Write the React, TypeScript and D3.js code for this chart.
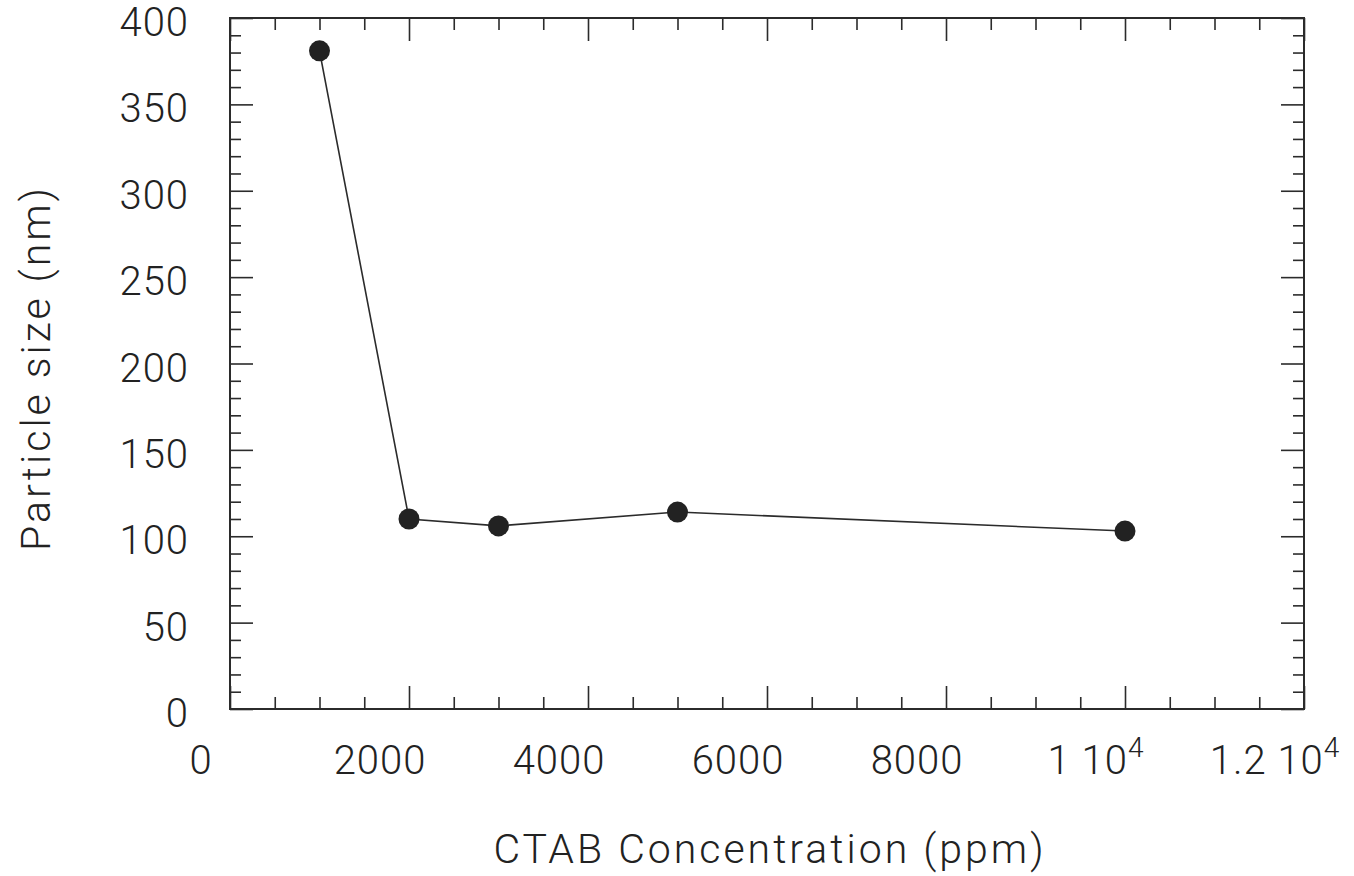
import * as d3 from 'd3';
import React, { useEffect, useRef } from 'react';

// CTAB concentration (ppm) vs particle size (nm)
const concentration = [1000, 2000, 3000, 5000, 10000];
const particleSize = [381, 110, 106, 114, 103];

const xTickValues = [0, 2000, 4000, 6000, 8000, 10000, 12000];
const xTickMantissa = ['0', '2000', '4000', '6000', '8000', '1 10', '1.2 10'];
const xTickExponent = ['', '', '', '', '', '4', '4'];
const yTickValues = [0, 50, 100, 150, 200, 250, 300, 350, 400];

const xTitle = 'CTAB Concentration (ppm)';
const yTitle = 'Particle size (nm)';

export default function App({
  width = 1354,
  height = 876,
  marginTop = 18,
  marginRight = 50,
  marginBottom = 167,
  marginLeft = 230,
}) {
  const svgRef = useRef(null);

  const x = d3
    .scaleLinear()
    .domain([0, 12000])
    .range([marginLeft, width - marginRight]);

  const y = d3
    .scaleLinear()
    .domain([0, 400])
    .range([height - marginBottom, marginTop]);

  useEffect(() => {
    const svg = d3.select(svgRef.current);
    svg.selectAll('*').remove();

    const ink = '#2b2b2b';
    const font = "Roboto, 'Liberation Sans', Arial, sans-serif";
    const x0 = marginLeft;
    const x1 = width - marginRight;
    const y0 = height - marginBottom;
    const y1 = marginTop;

    svg.append('rect').attr('width', width).attr('height', height).attr('fill', '#fff');

    const xMinor = d3.range(0, 12001, 500).filter((d) => d % 2000 !== 0);
    const yMinor = d3.range(0, 401, 10).filter((d) => d % 50 !== 0);

    // ticks on all four sides, pointing inward
    const addAxis = (axis, tx, ty) => {
      const g = svg
        .append('g')
        .attr('transform', `translate(${tx},${ty})`)
        .call(axis);
      g.select('.domain').remove();
      g.selectAll('line').attr('stroke', ink).attr('stroke-width', 1.6);
      g.selectAll('text').remove();
    };

    addAxis(d3.axisBottom(x).tickValues(xTickValues).tickSize(-23), 0, y0);
    addAxis(d3.axisBottom(x).tickValues(xMinor).tickSize(-12), 0, y0);
    addAxis(d3.axisTop(x).tickValues(xTickValues).tickSize(-23), 0, y1);
    addAxis(d3.axisTop(x).tickValues(xMinor).tickSize(-12), 0, y1);
    addAxis(d3.axisLeft(y).tickValues(yTickValues).tickSize(-23), x0, 0);
    addAxis(d3.axisLeft(y).tickValues(yMinor).tickSize(-11), x0, 0);
    addAxis(d3.axisRight(y).tickValues(yTickValues).tickSize(-23), x1, 0);
    addAxis(d3.axisRight(y).tickValues(yMinor).tickSize(-11), x1, 0);

    // frame
    svg
      .append('rect')
      .attr('x', x0)
      .attr('y', y1)
      .attr('width', x1 - x0)
      .attr('height', y0 - y1)
      .attr('fill', 'none')
      .attr('stroke', ink)
      .attr('stroke-width', 2);

    // x tick labels (shifted left of the ticks, as in the original)
    const xl = svg
      .append('g')
      .selectAll('text')
      .data(xTickValues)
      .enter()
      .append('text')
      .attr('x', (d) => x(d) - 29)
      .attr('y', y0 + 65)
      .attr('text-anchor', 'middle')
      .style('font-family', font)
      .style('font-weight', 300)
      .style('font-size', '40px')
      .style('letter-spacing', '1px')
      .attr('fill', '#222');
    xl.append('tspan').text((d, i) => xTickMantissa[i]);
    xl.append('tspan')
      .attr('dy', -17)
      .style('font-size', '28px')
      .text((d, i) => xTickExponent[i]);

    // y tick labels
    svg
      .append('g')
      .selectAll('text')
      .data(yTickValues)
      .enter()
      .append('text')
      .attr('x', 189)
      .attr('y', (d) => y(d) + 18)
      .attr('text-anchor', 'end')
      .style('font-family', font)
      .style('font-weight', 300)
      .style('font-size', '40px')
      .style('letter-spacing', '1px')
      .attr('fill', '#222')
      .text((d) => d);

    // line + markers
    const pts = concentration.map((c, i) => [c, particleSize[i]]);
    const line = d3
      .line()
      .x((d) => x(d[0]))
      .y((d) => y(d[1]));
    svg
      .append('path')
      .datum(pts)
      .attr('d', line)
      .attr('fill', 'none')
      .attr('stroke', ink)
      .attr('stroke-width', 1.6);
    svg
      .append('g')
      .selectAll('circle')
      .data(pts)
      .enter()
      .append('circle')
      .attr('cx', (d) => x(d[0]))
      .attr('cy', (d) => y(d[1]))
      .attr('r', 10.5)
      .attr('fill', '#222');

    // axis titles
    svg
      .append('text')
      .attr('x', 770)
      .attr('y', 863)
      .attr('text-anchor', 'middle')
      .style('font-family', font)
      .style('font-weight', 300)
      .style('font-size', '41px')
      .style('letter-spacing', '3px')
      .attr('fill', '#222')
      .text(xTitle);
    svg
      .append('text')
      .attr('transform', 'translate(50,368) rotate(-90)')
      .attr('text-anchor', 'middle')
      .style('font-family', font)
      .style('font-weight', 300)
      .style('font-size', '41px')
      .style('letter-spacing', '3px')
      .attr('fill', '#222')
      .text(yTitle);
  }, []);

  return (
    <svg
      ref={svgRef}
      width={width}
      height={height}
      style={{ position: 'absolute', left: 0, top: 0, display: 'block' }}
    ></svg>
  );
}
